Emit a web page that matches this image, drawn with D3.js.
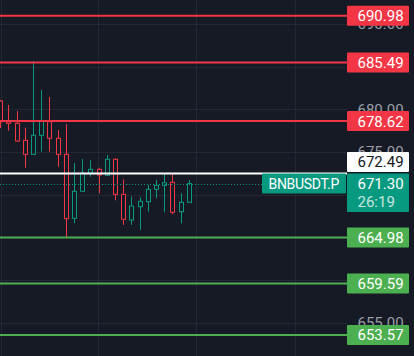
<!DOCTYPE html>
<html>
<head>
<meta charset="utf-8">
<script src="https://cdn.jsdelivr.net/npm/d3@7"></script>
<style>
  html, body { margin: 0; padding: 0; background: #161a25; }
  svg { display: block; }
  text { font-family: Roboto, "DejaVu Sans", sans-serif; }
</style>
</head>
<body>
<div id="chart"></div>
<script>
// candle data (oldest -> newest)
var opens  = [680.98, 678.55, 678.36, 676.37, 674.73, 676.96, 678.55, 676.61, 674.73, 667.23, 670.40, 672.54,
              672.97, 672.27, 674.15, 670.04, 667.03, 668.59, 669.18, 670.63, 671.10, 671.45, 668.01, 669.11];
var highs  = [681.10, 680.51, 679.81, 677.85, 685.66, 682.27, 681.45, 677.58, 678.28, 673.71, 674.18, 674.03,
              673.16, 674.65, 674.26, 671.80, 669.76, 669.69, 671.13, 671.72, 672.51, 672.42, 670.16, 671.72];
var lows   = [677.81, 677.50, 676.21, 673.16, 674.73, 675.04, 675.04, 673.28, 665.04, 666.65, 670.40, 672.11,
              670.16, 672.27, 669.34, 666.45, 666.45, 665.86, 668.01, 669.58, 667.94, 667.70, 666.65, 669.11];
var closes = [678.55, 678.36, 676.29, 674.73, 676.96, 678.63, 676.61, 674.73, 667.19, 670.40, 672.54, 672.97,
              672.31, 674.15, 670.04, 667.12, 668.67, 669.22, 670.63, 671.10, 671.40, 667.94, 669.11, 671.30];

var resistance = [690.98, 685.49, 678.62];
var support = [664.98, 659.59, 653.57];
var markPrice = 672.49;
var lastPrice = 671.30;
var countdown = "26:19";
var symbol = "BNBUSDT.P";
var ticks = [655, 660, 665, 670, 675, 680, 685, 690];

var W = 414, H = 356, plotR = 347;
var bg = "#161a25", up = "#089981", down = "#f23645", supCol = "#4caf50";

var svg = d3.select("#chart").append("svg").attr("width", W).attr("height", H);
svg.append("rect").attr("width", W).attr("height", H).attr("fill", bg);

var y = d3.scaleLinear().domain([655, 690]).range([322.7, 24]);
var x = d3.scaleLinear().domain([0, opens.length - 1]).range([0.3, 188.7]);

// grid
[1, 98, 196, 295].forEach(function (gx) {
  svg.append("line").attr("x1", gx + 0.5).attr("x2", gx + 0.5).attr("y1", 0).attr("y2", H)
    .attr("stroke", "#242834").attr("stroke-width", 1);
});
svg.selectAll(".hgrid").data(ticks).enter().append("line")
  .attr("x1", 0).attr("x2", plotR)
  .attr("y1", function (d) { return Math.round(y(d)) + 0.5; })
  .attr("y2", function (d) { return Math.round(y(d)) + 0.5; })
  .attr("stroke", "#242834");

// axis tick labels, hidden when a price label covers them completely
var ly = y(lastPrice);
var covers = resistance.concat(support).map(function (p) { return [y(p) - 10, y(p) + 10]; });
covers.push([ly - 10, ly + 28.5]);
var shownTicks = ticks.filter(function (t) {
  var ty = y(t);
  return !covers.some(function (c) { return ty > c[0] + 2 && ty < c[1] - 2; });
});
svg.selectAll(".tick").data(shownTicks).enter().append("text")
  .attr("x", 357.5).attr("y", function (d) { return y(d); }).attr("dy", "0.36em")
  .attr("fill", "#9b9ea7").attr("font-size", 15)
  .text(function (d) { return d.toFixed(2); });

// candles
var idx = d3.range(opens.length);
var g = svg.append("g");
idx.forEach(function (i) {
  var col = closes[i] >= opens[i] ? up : down;
  var cx = Math.round(x(i)) + 0.5;
  g.append("line").attr("x1", cx).attr("x2", cx)
    .attr("y1", y(highs[i])).attr("y2", y(lows[i]))
    .attr("stroke", col).attr("stroke-width", 1);
  var top = y(Math.max(opens[i], closes[i])), bot = y(Math.min(opens[i], closes[i]));
  g.append("rect").attr("x", cx - 2).attr("width", 4)
    .attr("y", top).attr("height", Math.max(1, bot - top))
    .attr("fill", bg).attr("stroke", col).attr("stroke-width", 1);
});

// horizontal price lines
resistance.forEach(function (p) {
  svg.append("line").attr("x1", 0).attr("x2", plotR).attr("y1", y(p)).attr("y2", y(p))
    .attr("stroke", down).attr("stroke-width", 2);
});
support.forEach(function (p) {
  svg.append("line").attr("x1", 0).attr("x2", plotR).attr("y1", y(p)).attr("y2", y(p))
    .attr("stroke", supCol).attr("stroke-width", 2);
});
svg.append("line").attr("x1", 0).attr("x2", plotR).attr("y1", y(markPrice)).attr("y2", y(markPrice))
  .attr("stroke", "#ffffff").attr("stroke-width", 2);
svg.append("line").attr("x1", 0).attr("x2", plotR)
  .attr("y1", Math.round(ly) + 0.5).attr("y2", Math.round(ly) + 0.5)
  .attr("stroke", up).attr("stroke-width", 1).attr("stroke-dasharray", "1,2");

// price labels on the axis
function label(p, fill, color, yc) {
  var cy = yc === undefined ? y(p) : yc;
  svg.append("rect").attr("x", 347).attr("y", cy - 10).attr("width", 62).attr("height", 20)
    .attr("rx", 1).attr("fill", fill);
  svg.append("text").attr("x", 357.5).attr("y", cy).attr("dy", "0.36em")
    .attr("fill", color).attr("font-size", 15).text(p.toFixed(2));
}
resistance.forEach(function (p) { label(p, down, "#ffffff"); });
support.forEach(function (p) { label(p, supCol, "#ffffff"); });

// last price box with countdown
svg.append("rect").attr("x", 347).attr("y", ly - 10).attr("width", 62).attr("height", 38.5)
  .attr("rx", 1).attr("fill", up);
svg.append("text").attr("x", 357.5).attr("y", ly).attr("dy", "0.36em")
  .attr("fill", "#ffffff").attr("font-size", 15).text(lastPrice.toFixed(2));
svg.append("text").attr("x", 357.5).attr("y", ly + 18.5).attr("dy", "0.36em")
  .attr("fill", "#c9e6df").attr("font-size", 15).text(countdown);

// symbol tag
svg.append("rect").attr("x", 262).attr("y", ly - 10).attr("width", 84).attr("height", 20)
  .attr("rx", 1).attr("fill", up);
svg.append("text").attr("x", 268.5).attr("y", ly).attr("dy", "0.36em")
  .attr("fill", "#ffffff").attr("font-size", 14).attr("letter-spacing", -0.3).text(symbol);

// mark price label pushed above the last price box
label(markPrice, "#ffffff", "#131722", ly - 10 - 11.5);
</script>
</body>
</html>
